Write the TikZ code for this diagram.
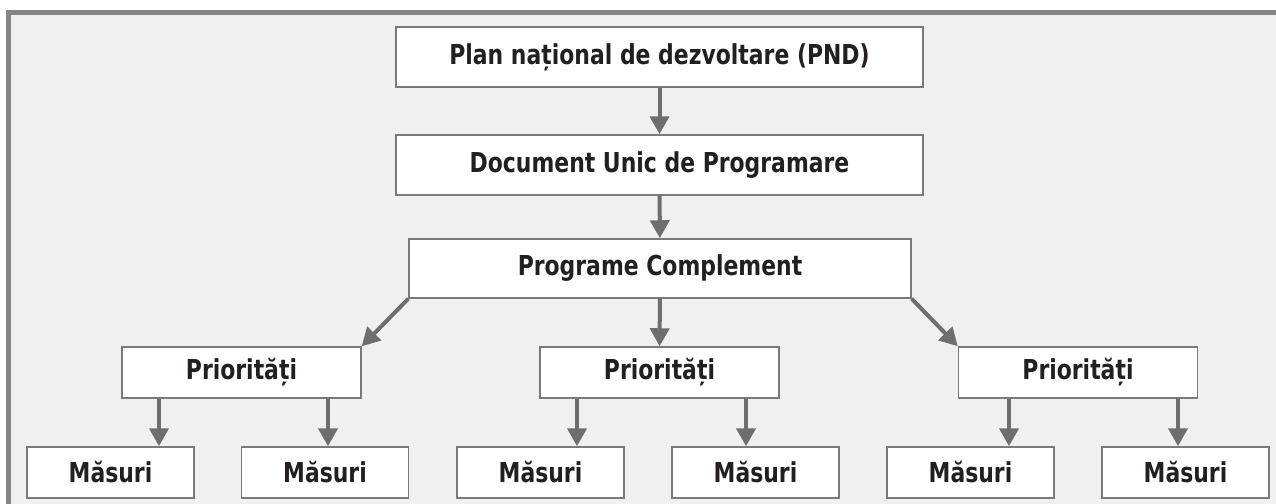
\documentclass[tikz,border=0pt]{standalone}
\usepackage{fontspec}
\setmainfont{DejaVu Sans}[FakeStretch=0.8]
\usetikzlibrary{arrows.meta}
\definecolor{panelgray}{HTML}{F0F0F0}
\definecolor{framegray}{HTML}{858585}
\definecolor{boxgray}{HTML}{7A7A7A}
\definecolor{arrowgray}{HTML}{6E6E6E}
\definecolor{textdark}{HTML}{231F20}
\begin{document}
\begin{tikzpicture}[x=0.02cm,y=-0.02cm,
    box/.style={draw=boxgray, line width=0.03cm, fill=white, inner sep=0pt,
                text=textdark, font=\fontsize{15.6}{18}\selectfont\bfseries},
    widebox/.style={box, minimum width=10.54cm, minimum height=1.2cm},
    progbox/.style={box, minimum width=10.04cm, minimum height=1.18cm},
    priobox/.style={box, minimum width=4.78cm, minimum height=1.02cm},
    masbox/.style={box, minimum width=3.34cm, minimum height=1.02cm},
    arr/.style={-{Triangle[width=0.38cm,length=0.36cm]}, draw=arrowgray, line width=0.08cm}]
            \useasboundingbox (0,0) rectangle (1276,504);
            
            % Panel and its frame
            \fill [panelgray] (6,10) rectangle (1276,504);%
            \fill [framegray] (6,10) rectangle (1276,15);%
            \fill [framegray] (6,10) rectangle (11,504);%
            
            % Top levels
            \node [widebox] (pnd) at (659.5,57) {Plan național de dezvoltare (PND)};%
            \node [widebox] (dup) at (659.5,165) {Document Unic de Programare};%
            \node [progbox] (pc) at (660,268.5) {Programe Complement};%
            
            % Priorities
            \node [priobox] (prioA) at (241.5,372.5) {Priorități};%
            \node [priobox] (prioB) at (659.5,372.5) {Priorități};%
            \node [priobox] (prioC) at (1078,372.5) {Priorități};%
            
            % Measures
            \node [masbox] (masA) at (110.5,472.5) {Măsuri};%
            \node [masbox] (masB) at (325,472.5) {Măsuri};%
            \node [masbox] (masC) at (540.5,472.5) {Măsuri};%
            \node [masbox] (masD) at (755.5,472.5) {Măsuri};%
            \node [masbox] (masE) at (970.5,472.5) {Măsuri};%
            \node [masbox] (masF) at (1185.5,472.5) {Măsuri};%
            
            % Columns of the lowest arrows
            \coordinate (colA) at (159,0);%
            \coordinate (colB) at (328,0);%
            \coordinate (colC) at (577,0);%
            \coordinate (colD) at (746,0);%
            \coordinate (colE) at (1009,0);%
            \coordinate (colF) at (1178,0);%
            
            % Drawing arrows down the chain
            \draw [arr] (pnd) -- (dup);%
            \draw [arr] (dup) -- (pc);%
            \draw [arr] (pc.south west) -- (prioA.north east);%
            \draw [arr] (pc) -- (prioB);%
            \draw [arr] (pc.south east) -- (prioC.north west);%
            
            % Drawing arrows to measures
            \draw [arr] (prioA.south -| colA) -- (masA.north -| colA);%
            \draw [arr] (prioA.south -| colB) -- (masB.north -| colB);%
            \draw [arr] (prioB.south -| colC) -- (masC.north -| colC);%
            \draw [arr] (prioB.south -| colD) -- (masD.north -| colD);%
            \draw [arr] (prioC.south -| colE) -- (masE.north -| colE);%
            \draw [arr] (prioC.south -| colF) -- (masF.north -| colF);%
\end{tikzpicture}
\end{document}
